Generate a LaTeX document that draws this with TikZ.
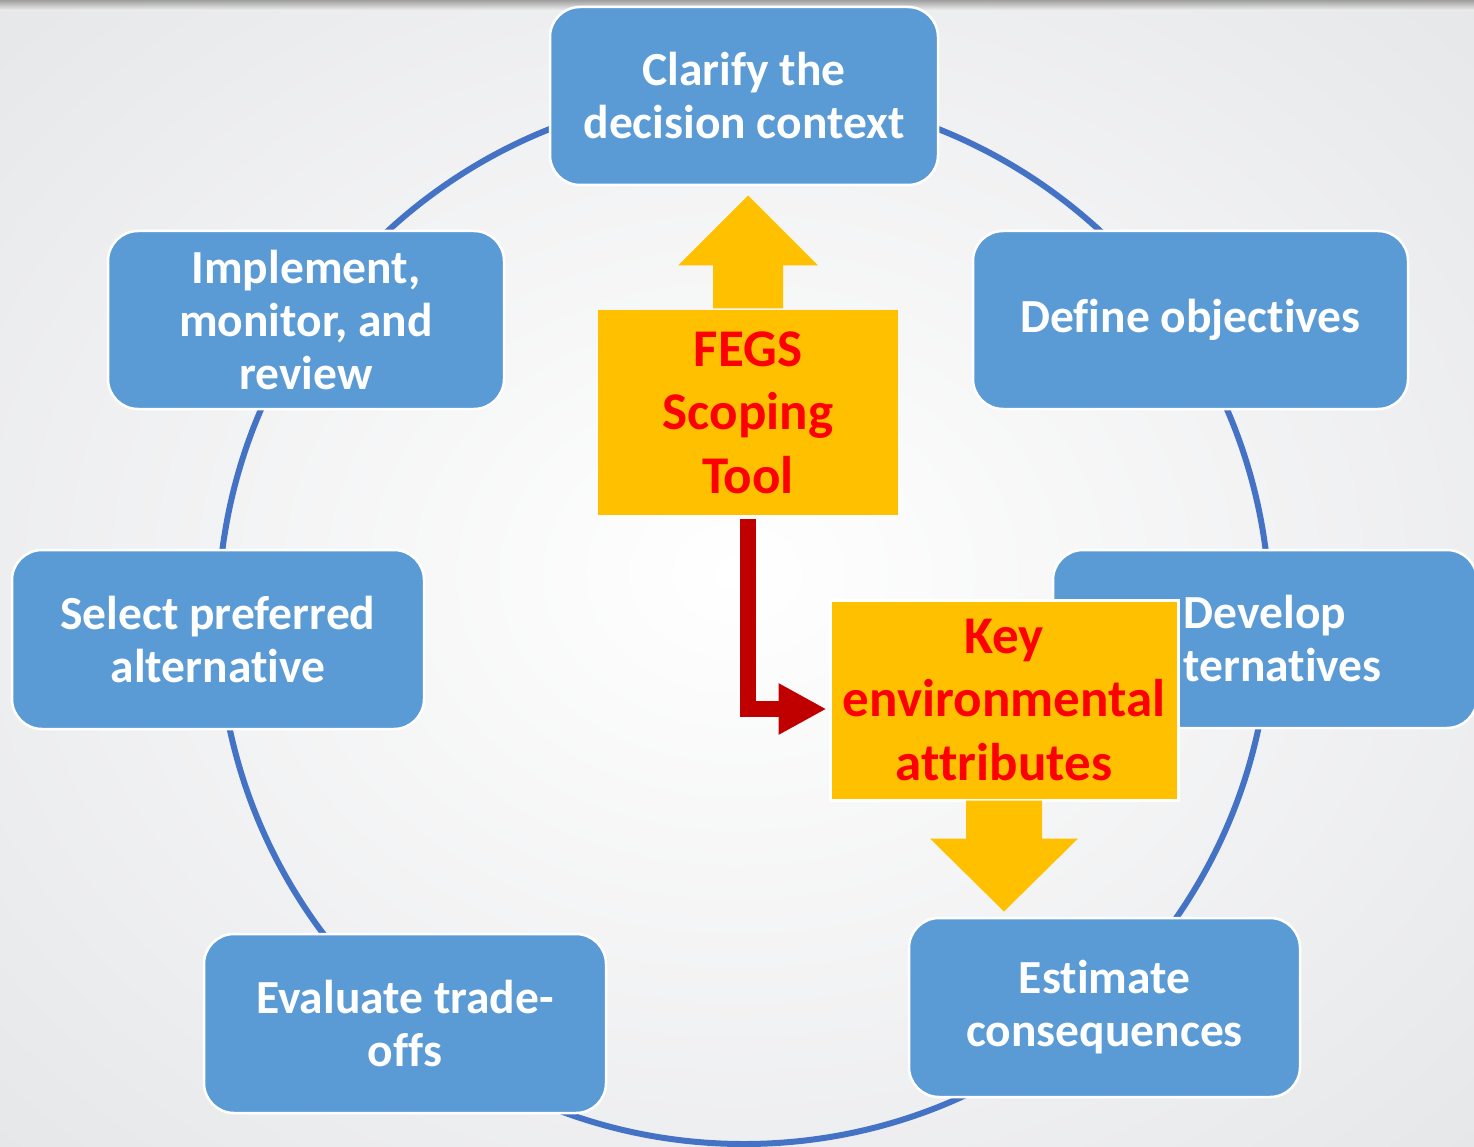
\documentclass[tikz,border=0pt]{standalone}
\usepackage{fontspec}
\setmainfont{Carlito}[RawFeature=-liga]
\usetikzlibrary{arrows.meta,calc}
\definecolor{boxblue}{HTML}{5B9BD5}
\definecolor{ringblue}{HTML}{4472C4}
\definecolor{amber}{HTML}{FFC000}
\definecolor{darkred}{HTML}{C00000}
\definecolor{bggray}{HTML}{E6E7E9}
\tikzset{
  stepbox/.style={rectangle, rounded corners=30pt, fill=boxblue, draw=white,
    line width=2.5pt, text=white, align=center, inner sep=0pt,
    font=\bfseries\fontsize{47.5}{53}\selectfont},
  toolbox/.style={rectangle, fill=amber, draw=white, line width=3pt,
    text=red, align=center, inner sep=0pt,
    font=\bfseries\fontsize{53}{63.5}\selectfont},
  ring/.style={draw=ringblue, line width=6pt},
  blockarrow/.style={fill=amber},
  redarrow/.style={draw=darkred, line width=16pt,
    -{Triangle[length=48pt,width=48pt]}}
}
\begin{document}
\begin{tikzpicture}[x=1pt,y=-1pt]
\useasboundingbox (0,0) rectangle (1474,1147);
% background
\shade[inner color=white, outer color=bggray] (-300,-250) rectangle (1774,1397);
\shade[top color=black!45, bottom color=black!3, opacity=0.8] (0,0) rectangle (1474,11);
% ring
\draw[ring] (744,618) circle[radius=526];
% step boxes
\node[stepbox, minimum width=388pt, minimum height=178pt] (clarify) at (744,96) {Clarify the\\decision context};
\node[stepbox, minimum width=435pt, minimum height=178pt] (define) at (1190.5,320) {Define objectives};
\node[stepbox, minimum width=391pt, minimum height=179pt] (estimate) at (1104.5,1007.5) {Estimate\\consequences};
\node[stepbox, minimum width=402pt, minimum height=179pt] (evaluate) at (405,1023.5) {Evaluate trade-\\offs};
\node[stepbox, minimum width=412pt, minimum height=179pt] (select) at (218,639.5) {Select preferred\\alternative};
\node[stepbox, minimum width=396pt, minimum height=178pt] (implement) at (306,320) {Implement,\\monitor, and\\review};
\node[stepbox, minimum width=424pt, minimum height=178pt] (develop) at (1265,639) {Develop\\alternatives};
% FEGS scoping tool
\node[toolbox, draw=none, minimum width=300pt, minimum height=205pt] (fegs) at (748,412.5) {FEGS\\Scoping\\Tool};
\fill[blockarrow] ($(fegs.north)+(-35,0)$) -- ++(0,-43) -- ++(-35,0) -- ($(fegs.north)+(0,-113)$)
  -- ($(fegs.north)+(70,-43)$) -- ++(-35,0) -- ($(fegs.north)+(35,0)$) -- cycle;
% key environmental attributes
\node[toolbox, minimum width=348pt, minimum height=200pt] (key) at (1004,700) {Key\\environmental\\attributes};
\fill[blockarrow] ($(key.south)+(-38,-1)$) -- ++(0,38) -- ++(-36,0) -- ($(key.south)+(0,110)$)
  -- ($(key.south)+(74,37)$) -- ++(-36,0) -- ($(key.south)+(38,-1)$) -- cycle;
% red connector
\draw[redarrow] ($(fegs.south)+(0,2)$) |- ($(key.west)+(-2,9)$);
\end{tikzpicture}
\end{document}
